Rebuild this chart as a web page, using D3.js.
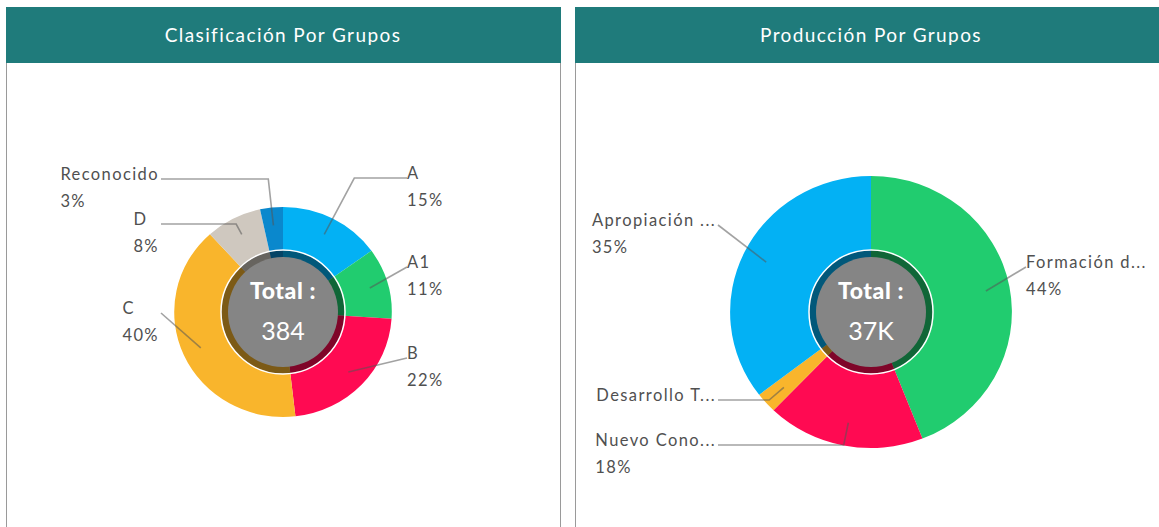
<!DOCTYPE html>
<html>
<head>
<meta charset="utf-8">
<script src="https://cdn.jsdelivr.net/npm/d3@7"></script>
<style>
  body { margin: 0; background: #fff; }
  svg { display: block; font-family: Lato, "Open Sans", sans-serif; }
</style>
</head>
<body>
<svg id="charts"></svg>
<script>
// ---- data ----
const groupNames = ["A", "A1", "B", "C", "D", "Reconocido"];
const groupValues = [58, 42, 85, 154, 32, 13];
const groupColors = ["#03b1f4", "#21cc6f", "#ff0a52", "#f9b52c", "#cfc8bf", "#0a88cd"];

const prodNames = ["Formación d...", "Nuevo Cono...", "Desarrollo T...", "Apropiación ..."];
const prodValues = [16300, 6700, 900, 13100];
const prodColors = ["#21cc6f", "#ff0a52", "#f9b52c", "#03b1f4"];

const titles = ["Clasificación Por Grupos", "Producción Por Grupos"];

// ---- layout ----
const width = 1159;
const height = 527;
const panels = [
  { x: 6, w: 554, radius: 105, labelY: [178, 267, 358, 313, 224, 179], showPct: [1, 1, 1, 1, 1, 1] },
  { x: 575, w: 592, radius: 136, labelY: [267, 445, 400, 225], showPct: [1, 1, 0, 1] },
];
const panelTop = 7;
const headerH = 56;
const pieCy = 312;
const stretchX = 1.036;
const holeR = 62;
const coreR = 55;

const svg = d3.select("#charts").attr("width", width).attr("height", height);

const fmtTotal = (t) => (t >= 1000 ? d3.format(".2s")(t).toUpperCase() : String(t));

const drawDonut = (panel, title, names, values, colors) => {
  const cx = panel.x + panel.w / 2;
  const R = panel.radius;
  const total = d3.sum(values);

  // panel frame + header
  svg.append("rect")
    .attr("x", panel.x + 0.5).attr("y", panelTop + 0.5)
    .attr("width", panel.w).attr("height", height - panelTop)
    .attr("fill", "#fff").attr("stroke", "#9a9a9a").attr("stroke-width", 1);
  svg.append("rect")
    .attr("x", panel.x).attr("y", panelTop)
    .attr("width", panel.w + 1).attr("height", headerH)
    .attr("fill", "#1f7b7b");
  svg.append("text")
    .attr("x", cx).attr("y", panelTop + headerH / 2 + 7)
    .attr("text-anchor", "middle")
    .attr("fill", "#fff").attr("font-size", 19)
    .attr("letter-spacing", 1.4)
    .text(title);

  const pie = d3.pie().sort(null).value((d) => d)(values);
  const arc = d3.arc().innerRadius(40).outerRadius(R);

  const g = svg.append("g").attr("transform", `translate(${cx},${pieCy}) scale(${stretchX},1)`);
  g.selectAll("path")
    .data(pie)
    .enter()
    .append("path")
    .attr("d", arc)
    .attr("fill", (d, i) => colors[i]);

  // leader lines + labels
  const anchorArc = d3.arc().innerRadius(R * 0.83).outerRadius(R * 0.83);
  const edge = R + 19;
  pie.forEach((d, i) => {
    const mid = (d.startAngle + d.endAngle) / 2;
    const c = anchorArc.centroid(d);
    const ax = cx + c[0] * stretchX;
    const ay = pieCy + c[1];
    const right = mid < Math.PI;
    const ly = panel.labelY[i];
    const lx = right ? cx + edge : cx - edge + 2;

    // elbow on the radial ray through the anchor, if it falls between anchor and label
    const dx = Math.sin(mid) * stretchX;
    const dy = -Math.cos(mid);
    const t = (ly - ay) / dy;
    const ex = ax + dx * t;
    let pts = [[lx, ly], [ax, ay]];
    if (t > 0 && (right ? ex < lx : ex > lx)) pts = [[lx, ly], [ex, ly], [ax, ay]];

    svg.append("path")
      .attr("d", d3.line()(pts))
      .attr("fill", "none")
      .attr("stroke", "#555")
      .attr("stroke-opacity", 0.55)
      .attr("stroke-width", 1.6);

    const lg = svg.append("g").attr("fill", "#505050")
      .attr("font-size", 16.5).attr("letter-spacing", 1.4);
    lg.append("text").attr("x", 0).attr("y", ly - 5 + 5.5).text(names[i]);
    if (panel.showPct[i]) {
      lg.append("text").attr("x", 0).attr("y", ly + 22 + 5.5)
        .text(Math.round((values[i] / total) * 100) + "%");
    }
    const bw = lg.node().getBBox().width;
    lg.attr("transform", `translate(${right ? cx + edge : cx - edge - bw},0)`);
  });

  // center hole
  svg.append("circle")
    .attr("cx", cx).attr("cy", pieCy).attr("r", holeR)
    .attr("fill", "#000").attr("fill-opacity", 0.5);
  svg.append("circle")
    .attr("cx", cx).attr("cy", pieCy).attr("r", holeR)
    .attr("fill", "none").attr("stroke", "#fff").attr("stroke-width", 1.5);
  svg.append("circle")
    .attr("cx", cx).attr("cy", pieCy).attr("r", coreR)
    .attr("fill", "#858585");
  svg.append("text")
    .attr("x", cx).attr("y", pieCy - 13)
    .attr("text-anchor", "middle").attr("fill", "#fff")
    .attr("font-size", 23).attr("font-weight", 900)
    .attr("letter-spacing", 0.6)
    .text("Total :");
  svg.append("text")
    .attr("x", cx).attr("y", pieCy + 28)
    .attr("text-anchor", "middle").attr("fill", "#fff")
    .attr("font-size", 25)
    .text(fmtTotal(total));
};

drawDonut(panels[0], titles[0], groupNames, groupValues, groupColors);
drawDonut(panels[1], titles[1], prodNames, prodValues, prodColors);
</script>
</body>
</html>
